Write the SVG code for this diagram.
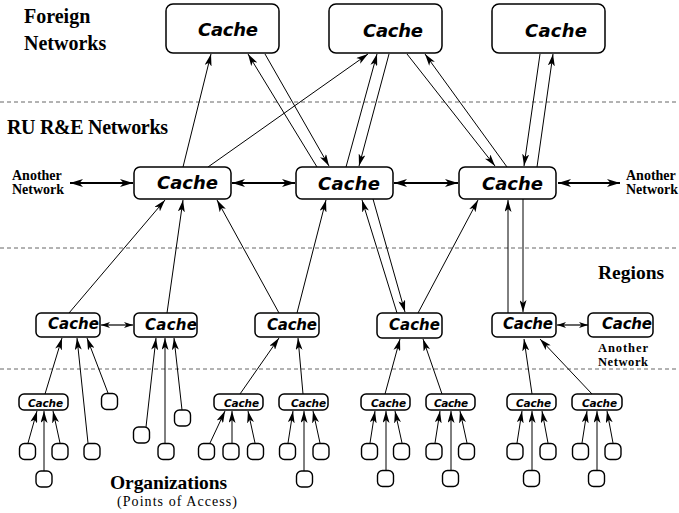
<svg xmlns="http://www.w3.org/2000/svg" width="679" height="513" viewBox="0 0 679 513">
<style>
.bg{fill:#fff}
.box{fill:#fff;stroke:#000;stroke-width:1.5}
.leaf{fill:#fff;stroke:#000;stroke-width:1.4}
.c{stroke:#000;stroke-width:1;fill:none;marker-end:url(#ah)}
.h{stroke:#000;stroke-width:2;fill:none;marker-start:url(#big);marker-end:url(#big)}
.hs{stroke:#000;stroke-width:1.2;fill:none;marker-start:url(#sm);marker-end:url(#sm)}
.dash{stroke:#666;stroke-width:1;stroke-dasharray:4 3}
.cache{font-family:"DejaVu Sans","Liberation Sans",Arial,sans-serif;font-weight:bold;font-style:italic;fill:#000}
.lab{font-family:"Liberation Serif","Times New Roman",serif;font-weight:bold;fill:#000}
.sub{font-family:"Liberation Serif","Times New Roman",serif;fill:#000}
</style>
<defs>
<marker id="ah" markerUnits="userSpaceOnUse" viewBox="0 0 12 7" markerWidth="12" markerHeight="7" refX="12" refY="3.5" orient="auto">
<path d="M0,0 L12,3.5 L0,7 L3,3.5 Z" fill="#000"/>
</marker>
<marker id="big" markerUnits="userSpaceOnUse" viewBox="0 0 13 8" markerWidth="13" markerHeight="8" refX="13" refY="4" orient="auto-start-reverse">
<path d="M0,0 L13,4 L0,8 L3.5,4 Z" fill="#000"/>
</marker>
<marker id="sm" markerUnits="userSpaceOnUse" viewBox="0 0 9 6" markerWidth="9" markerHeight="6" refX="9" refY="3" orient="auto-start-reverse">
<path d="M0,0 L9,3 L0,6 L2.5,3 Z" fill="#000"/>
</marker>
</defs>
<rect class="bg" x="0" y="0" width="679" height="513"/>

<g id="separators">
<line class="dash" x1="0" y1="102" x2="679" y2="102"/>
<line class="dash" x1="0" y1="248" x2="679" y2="248"/>
<line class="dash" x1="0" y1="369" x2="679" y2="369"/>
</g>

<g id="labels">
<text class="lab" x="24" y="23" font-size="20">Foreign</text>
<text class="lab" x="24" y="50" font-size="20">Networks</text>
<text class="lab" x="7" y="134" font-size="20" textLength="161">RU R&amp;E Networks</text>
<text class="lab" x="598" y="279" font-size="19.5">Regions</text>
<text class="lab" x="110" y="489" font-size="19.5" textLength="117">Organizations</text>
<text class="sub" x="117" y="506" font-size="14" textLength="120">(Points of Access)</text>
<text class="lab" x="12" y="180" font-size="14">Another</text>
<text class="lab" x="12" y="194" font-size="14">Network</text>
<text class="lab" x="626" y="180" font-size="14">Another</text>
<text class="lab" x="626" y="194" font-size="14">Network</text>
<text class="lab" x="598" y="352" font-size="12.5" textLength="50">Another</text>
<text class="lab" x="598" y="366" font-size="12.5" textLength="50">Network</text>
</g>

<g id="connectors">
<line class="c" x1="183" y1="167" x2="211" y2="54"/>
<line class="c" x1="317" y1="167" x2="248" y2="54"/>
<line class="c" x1="265" y1="54" x2="329" y2="166"/>
<line class="c" x1="208" y1="167" x2="368" y2="54"/>
<line class="c" x1="346" y1="167" x2="377" y2="54"/>
<line class="c" x1="389" y1="54" x2="359" y2="166"/>
<line class="c" x1="407" y1="54" x2="495" y2="166"/>
<line class="c" x1="507" y1="167" x2="425" y2="54"/>
<line class="c" x1="540" y1="54" x2="524" y2="166"/>
<line class="c" x1="537" y1="167" x2="553" y2="54"/>

<line class="c" x1="69" y1="313" x2="165" y2="200"/>
<line class="c" x1="167" y1="313" x2="183" y2="200"/>
<line class="c" x1="279" y1="313" x2="217" y2="200"/>
<line class="c" x1="297" y1="313" x2="326" y2="200"/>
<line class="c" x1="397" y1="313" x2="362" y2="200"/>
<line class="c" x1="373" y1="199" x2="405" y2="312"/>
<line class="c" x1="418" y1="313" x2="478" y2="200"/>
<line class="c" x1="508" y1="313" x2="508" y2="200"/>
<line class="c" x1="523" y1="199" x2="523" y2="312"/>

<line class="h" x1="70" y1="183" x2="133" y2="183"/>
<line class="h" x1="232" y1="183" x2="295" y2="183"/>
<line class="h" x1="394" y1="183" x2="458" y2="183"/>
<line class="h" x1="558" y1="183" x2="620" y2="183"/>
<line class="hs" x1="101" y1="325" x2="133" y2="325"/>
<line class="hs" x1="557" y1="325" x2="588" y2="325"/>

<line class="c" x1="45" y1="394" x2="62" y2="338"/>
<line class="c" x1="88" y1="443" x2="77" y2="338"/>
<line class="c" x1="108" y1="393" x2="87" y2="338"/>
<line class="c" x1="146" y1="427" x2="156" y2="338"/>
<line class="c" x1="165" y1="443" x2="165" y2="338"/>
<line class="c" x1="182" y1="410" x2="174" y2="338"/>
<line class="c" x1="240" y1="394" x2="279" y2="338"/>
<line class="c" x1="303" y1="394" x2="298" y2="338"/>
<line class="c" x1="385" y1="394" x2="400" y2="339"/>
<line class="c" x1="442" y1="394" x2="423" y2="339"/>
<line class="c" x1="532" y1="394" x2="524" y2="339"/>
<line class="c" x1="592" y1="394" x2="540" y2="339"/>

<line class="c" x1="28" y1="443" x2="37" y2="411"/>
<line class="c" x1="44" y1="471" x2="44" y2="411"/>
<line class="c" x1="60" y1="443" x2="53" y2="411"/>
<line class="c" x1="210" y1="443" x2="225" y2="411"/>
<line class="c" x1="232" y1="443" x2="232" y2="411"/>
<line class="c" x1="255" y1="443" x2="248" y2="411"/>
<line class="c" x1="288" y1="443" x2="293" y2="411"/>
<line class="c" x1="304" y1="471" x2="304" y2="411"/>
<line class="c" x1="320" y1="443" x2="313" y2="411"/>
<line class="c" x1="370" y1="443" x2="375" y2="411"/>
<line class="c" x1="386" y1="470" x2="386" y2="411"/>
<line class="c" x1="402" y1="443" x2="395" y2="411"/>
<line class="c" x1="435" y1="443" x2="440" y2="411"/>
<line class="c" x1="451" y1="470" x2="451" y2="411"/>
<line class="c" x1="467" y1="443" x2="460" y2="411"/>
<line class="c" x1="517" y1="443" x2="522" y2="411"/>
<line class="c" x1="532" y1="470" x2="532" y2="411"/>
<line class="c" x1="548" y1="443" x2="542" y2="411"/>
<line class="c" x1="582" y1="443" x2="587" y2="411"/>
<line class="c" x1="597" y1="470" x2="597" y2="411"/>
<line class="c" x1="613" y1="443" x2="607" y2="411"/>
</g>

<g id="foreign-1"><rect class="box" x="166" y="4" width="113" height="49" rx="7"/><text class="cache" x="198" y="36" font-size="18" textLength="60">Cache</text></g>
<g id="foreign-2"><rect class="box" x="329" y="4" width="113" height="49" rx="7"/><text class="cache" x="363" y="36.5" font-size="18" textLength="60">Cache</text></g>
<g id="foreign-3"><rect class="box" x="492" y="4" width="113" height="49" rx="7"/><text class="cache" x="525" y="36.5" font-size="18" textLength="62">Cache</text></g>

<g id="ru-1"><rect class="box" x="134" y="167" width="97" height="32" rx="6"/><text class="cache" x="157" y="189" font-size="18" textLength="61">Cache</text></g>
<g id="ru-2"><rect class="box" x="296" y="167" width="97" height="32" rx="6"/><text class="cache" x="318" y="190" font-size="18" textLength="62">Cache</text></g>
<g id="ru-3"><rect class="box" x="459" y="167" width="97" height="32" rx="6"/><text class="cache" x="482" y="190" font-size="18" textLength="61">Cache</text></g>

<g id="region-1"><rect class="box" x="36" y="313" width="64" height="24" rx="5"/><text class="cache" x="48" y="329" font-size="15" textLength="51">Cache</text></g>
<g id="region-2"><rect class="box" x="134" y="313" width="63" height="24" rx="5"/><text class="cache" x="145" y="330" font-size="15" textLength="52">Cache</text></g>
<g id="region-3"><rect class="box" x="255" y="313" width="64" height="24" rx="5"/><text class="cache" x="267" y="330" font-size="15" textLength="50">Cache</text></g>
<g id="region-4"><rect class="box" x="377" y="313" width="65" height="25" rx="5"/><text class="cache" x="389" y="330" font-size="15" textLength="51">Cache</text></g>
<g id="region-5"><rect class="box" x="492" y="313" width="64" height="24" rx="5"/><text class="cache" x="503" y="329" font-size="15" textLength="50">Cache</text></g>
<g id="region-6"><rect class="box" x="588" y="313" width="65" height="24" rx="5"/><text class="cache" x="602" y="329" font-size="15" textLength="50">Cache</text></g>

<g id="org-cache-1"><rect class="box" x="19" y="394" width="49" height="16" rx="5"/><text class="cache" x="28" y="407" font-size="10.5" textLength="35">Cache</text></g>
<g id="org-cache-2"><rect class="box" x="214" y="394" width="49" height="16" rx="5"/><text class="cache" x="224" y="407" font-size="10.5" textLength="35">Cache</text></g>
<g id="org-cache-3"><rect class="box" x="279" y="394" width="49" height="16" rx="5"/><text class="cache" x="291" y="407" font-size="10.5" textLength="35">Cache</text></g>
<g id="org-cache-4"><rect class="box" x="361" y="394" width="49" height="16" rx="5"/><text class="cache" x="371" y="407" font-size="10.5" textLength="35">Cache</text></g>
<g id="org-cache-5"><rect class="box" x="426" y="394" width="49" height="16" rx="5"/><text class="cache" x="434" y="407" font-size="10.5" textLength="34">Cache</text></g>
<g id="org-cache-6"><rect class="box" x="507" y="394" width="49" height="16" rx="5"/><text class="cache" x="516" y="407" font-size="10.5" textLength="35">Cache</text></g>
<g id="org-cache-7"><rect class="box" x="572" y="394" width="50" height="16" rx="5"/><text class="cache" x="582" y="407" font-size="10.5" textLength="35">Cache</text></g>

<g id="leaves">
<rect id="leaf-1" class="leaf" x="19.5" y="443.5" width="16" height="16" rx="5"/>
<rect id="leaf-2" class="leaf" x="36" y="471" width="16" height="16" rx="5"/>
<rect id="leaf-3" class="leaf" x="52" y="443.5" width="16" height="16" rx="5"/>
<rect id="leaf-4" class="leaf" x="84" y="443.5" width="16" height="16" rx="5"/>
<rect id="leaf-5" class="leaf" x="101.5" y="393.5" width="16" height="16" rx="5"/>
<rect id="leaf-6" class="leaf" x="133.5" y="427" width="16" height="16" rx="5"/>
<rect id="leaf-7" class="leaf" x="158" y="443.5" width="16" height="16" rx="5"/>
<rect id="leaf-8" class="leaf" x="174.5" y="410" width="16" height="16" rx="5"/>
<rect id="leaf-9" class="leaf" x="198.5" y="443.5" width="16" height="16" rx="5"/>
<rect id="leaf-10" class="leaf" x="223" y="443.5" width="16" height="16" rx="5"/>
<rect id="leaf-11" class="leaf" x="247.5" y="443.5" width="16" height="16" rx="5"/>
<rect id="leaf-12" class="leaf" x="279.5" y="443.5" width="16" height="16" rx="5"/>
<rect id="leaf-13" class="leaf" x="296.5" y="471" width="16" height="16" rx="5"/>
<rect id="leaf-14" class="leaf" x="313" y="443.5" width="16" height="16" rx="5"/>
<rect id="leaf-15" class="leaf" x="361.5" y="443.5" width="16" height="16" rx="5"/>
<rect id="leaf-16" class="leaf" x="377.5" y="470.5" width="16" height="16" rx="5"/>
<rect id="leaf-17" class="leaf" x="393.5" y="443.5" width="16" height="16" rx="5"/>
<rect id="leaf-18" class="leaf" x="426" y="443.5" width="16" height="16" rx="5"/>
<rect id="leaf-19" class="leaf" x="442.5" y="470.5" width="16" height="16" rx="5"/>
<rect id="leaf-20" class="leaf" x="458.5" y="443.5" width="16" height="16" rx="5"/>
<rect id="leaf-21" class="leaf" x="507" y="443.5" width="16" height="16" rx="5"/>
<rect id="leaf-22" class="leaf" x="523.5" y="470.5" width="16" height="16" rx="5"/>
<rect id="leaf-23" class="leaf" x="540" y="443.5" width="16" height="16" rx="5"/>
<rect id="leaf-24" class="leaf" x="572.5" y="443.5" width="16" height="16" rx="5"/>
<rect id="leaf-25" class="leaf" x="588.5" y="470.5" width="16" height="16" rx="5"/>
<rect id="leaf-26" class="leaf" x="605" y="443.5" width="16" height="16" rx="5"/>
</g>
</svg>
